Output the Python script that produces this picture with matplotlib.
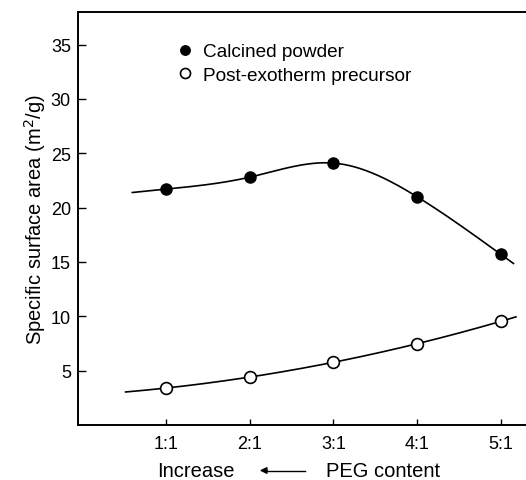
import numpy as np
import matplotlib.pyplot as plt

plt.rcParams['font.family'] = ['Liberation Sans', 'DejaVu Sans']

ratios = ["1:1", "2:1", "3:1", "4:1", "5:1"]
x_pos = [1, 2, 3, 4, 5]
calcined = [21.7, 22.8, 24.1, 21.0, 15.7]
precursor = [3.4, 4.4, 5.8, 7.45, 9.55]


def natural_spline(x, y, xs):
    # natural cubic spline through the points, linear beyond the ends
    x = np.asarray(x, float)
    y = np.asarray(y, float)
    n = len(x)
    h = np.diff(x)
    A = np.zeros((n, n))
    r = np.zeros(n)
    A[0, 0] = A[-1, -1] = 1
    for i in range(1, n - 1):
        A[i, i - 1] = h[i - 1]
        A[i, i] = 2 * (h[i - 1] + h[i])
        A[i, i + 1] = h[i]
        r[i] = 6 * ((y[i + 1] - y[i]) / h[i] - (y[i] - y[i - 1]) / h[i - 1])
    M = np.linalg.solve(A, r)
    out = np.empty_like(xs)
    for k, t in enumerate(xs):
        if t < x[0]:
            s = (y[1] - y[0]) / h[0] - h[0] * (2 * M[0] + M[1]) / 6
            out[k] = y[0] + s * (t - x[0])
            continue
        if t > x[-1]:
            s = (y[-1] - y[-2]) / h[-1] + h[-1] * (M[-2] + 2 * M[-1]) / 6
            out[k] = y[-1] + s * (t - x[-1])
            continue
        i = min(np.searchsorted(x, t, side="right") - 1, n - 2)
        a = (x[i + 1] - t) / h[i]
        b = (t - x[i]) / h[i]
        out[k] = (a * y[i] + b * y[i + 1]
                  + ((a ** 3 - a) * M[i] + (b ** 3 - b) * M[i + 1]) * h[i] ** 2 / 6)
    return out


fig = plt.figure(figsize=(5.26, 4.81), dpi=100)
ax = fig.add_axes([0.148, 0.1143, 0.852, 0.8587])

xc = np.linspace(0.6, 5.15, 300)
ax.plot(xc, natural_spline(x_pos, calcined, xc), color="k", lw=1.2)
xp = np.linspace(0.52, 5.18, 200)
pp = np.polyfit(x_pos, precursor, 2)
ax.plot(xp, np.polyval(pp, xp), color="k", lw=1.2)

ax.plot(x_pos, calcined, "o", color="k", ms=8, label="Calcined powder")
ax.plot(x_pos, precursor, "o", mfc="white", mec="k", mew=1.2, ms=8.5,
        label="Post-exotherm precursor")

ax.set_xlim(-0.05, 5.3)
ax.set_ylim(0, 38)
ax.set_xticks(x_pos)
ax.set_xticklabels(ratios)
ax.set_yticks([5, 10, 15, 20, 25, 30, 35])
ax.tick_params(direction="in", labelsize=13, width=1)
ax.tick_params(axis="y", length=6, pad=5)
ax.tick_params(axis="x", length=4, pad=7)
ax.spines["right"].set_visible(False)
for s in ["left", "bottom", "top"]:
    ax.spines[s].set_linewidth(1.4)

ax.set_ylabel("Specific surface area (m$^2$/g)", fontsize=14.5, labelpad=2)

leg = ax.legend(frameon=False, loc="upper left", bbox_to_anchor=(0.2, 0.943),
                fontsize=13.7, handletextpad=0.45, labelspacing=0.33,
                markerscale=0.85, handlelength=1.0, borderaxespad=0)

# x axis caption with arrow
yc = 1 - 471.5 / 481
fig.text(196 / 526, yc, "Increase", fontsize=14.5, ha="center", va="center")
fig.text(383 / 526, yc, "PEG content", fontsize=14.5, ha="center", va="center")
fig.add_artist(plt.Line2D([265 / 526, 305 / 526], [yc, yc], color="k", lw=1))
ax.annotate("", xy=(257 / 526, yc), xytext=(270 / 526, yc),
            xycoords="figure fraction", textcoords="figure fraction",
            arrowprops=dict(arrowstyle="-|>", color="k", lw=1, mutation_scale=10))

fig.savefig("out.png", dpi=100)
